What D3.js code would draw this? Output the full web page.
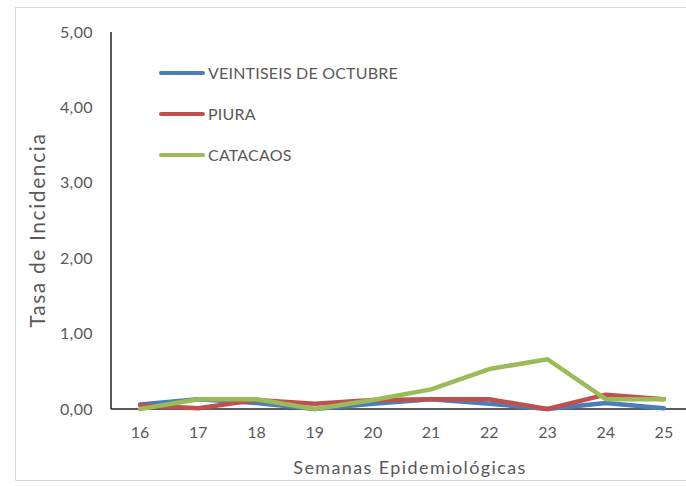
<!DOCTYPE html>
<meta charset="utf-8"/>
<html>
  <head>
    <script src="https://d3js.org/d3.v7.min.js"></script>
    <style>
      body { margin: 0; background: #fff; }
      text { font-family: Lato, 'Open Sans', sans-serif; }
    </style>
  </head>
  <body>
<script type="text/javascript">
var semanas = ['16', '17', '18', '19', '20', '21', '22', '23', '24', '25'];
var veintiseis = [0.06, 0.13, 0.08, 0.00, 0.07, 0.13, 0.07, 0.00, 0.08, 0.01];
var piura = [0.05, 0.01, 0.12, 0.07, 0.12, 0.13, 0.13, 0.00, 0.19, 0.13];
var catacaos = [0.00, 0.13, 0.13, 0.00, 0.12, 0.26, 0.53, 0.66, 0.13, 0.13];
var yTicks = [0, 1, 2, 3, 4, 5];
var seriesNames = ['VEINTISEIS DE OCTUBRE', 'PIURA', 'CATACAOS'];
var seriesColors = ['#4a7ebb', '#c0504d', '#9bbb59'];
var seriesData = [veintiseis, piura, catacaos];

var width = 686, height = 486;
var svg = d3.select('body').append('svg')
    .attr('width', width)
    .attr('height', height);

// chart area border
svg.append('rect')
    .attr('x', 15.5).attr('y', 7.5)
    .attr('width', 700).attr('height', 473)
    .attr('fill', 'none')
    .attr('stroke', '#d9d9d9');

var x = d3.scaleBand().domain(semanas).range([111, 693]);
var y = d3.scaleLinear().domain([0, 5]).range([409, 32]);

// y axis
svg.append('line')
    .attr('x1', 111).attr('x2', 111)
    .attr('y1', y(5)).attr('y2', y(0))
    .attr('stroke', '#000').attr('stroke-width', 1.3);
svg.selectAll('.ytick')
    .data(yTicks)
    .enter()
    .append('text')
    .attr('x', 93)
    .attr('y', function(d) { return y(d); })
    .attr('dy', '0.35em')
    .attr('text-anchor', 'end')
    .attr('fill', '#595959')
    .style('font-size', '16px')
    .style('letter-spacing', '0.4px')
    .text(function(d) { return d3.format('.2f')(d).replace('.', ','); });

// x axis
svg.append('line')
    .attr('x1', 111).attr('x2', 693)
    .attr('y1', y(0)).attr('y2', y(0))
    .attr('stroke', '#262626').attr('stroke-width', 1.5);
svg.selectAll('.xtick')
    .data(semanas)
    .enter()
    .append('text')
    .attr('x', function(d) { return x(d) + x.bandwidth() / 2; })
    .attr('y', 438)
    .attr('text-anchor', 'middle')
    .attr('fill', '#595959')
    .style('font-size', '16px')
    .text(function(d) { return d; });

// titles
svg.append('text')
    .attr('transform', 'translate(45,230) rotate(-90)')
    .attr('text-anchor', 'middle')
    .attr('fill', '#595959')
    .style('font-size', '21px')
    .style('letter-spacing', '1.6px')
    .text('Tasa de Incidencia');
svg.append('text')
    .attr('x', 410).attr('y', 474)
    .attr('text-anchor', 'middle')
    .attr('fill', '#595959')
    .style('font-size', '18px')
    .style('letter-spacing', '1.4px')
    .text('Semanas Epidemiológicas');

var line = d3.line()
    .x(function(d, i) { return x(semanas[i]) + x.bandwidth() / 2; })
    .y(function(d) { return y(d); });

seriesData.forEach(function(s, i) {
  svg.append('path')
      .attr('d', line(s))
      .attr('stroke', seriesColors[i])
      .attr('stroke-width', 4.5)
      .attr('stroke-linejoin', 'round')
      .attr('stroke-linecap', 'round')
      .attr('fill', 'none');
});

// legend
var legend = svg.selectAll('.legend')
    .data(seriesNames)
    .enter()
    .append('g')
    .attr('transform', function(d, i) { return 'translate(161,' + (73 + i * 41) + ')'; });
legend.append('line')
    .attr('x1', 0).attr('x2', 42)
    .attr('stroke', function(d, i) { return seriesColors[i]; })
    .attr('stroke-width', 4)
    .attr('stroke-linecap', 'round');
legend.append('text')
    .attr('x', 47)
    .attr('dy', '0.35em')
    .attr('fill', '#595959')
    .style('font-size', '16px')
    .style('letter-spacing', '0.2px')
    .text(function(d) { return d; });
</script>
  </body>
</html>
